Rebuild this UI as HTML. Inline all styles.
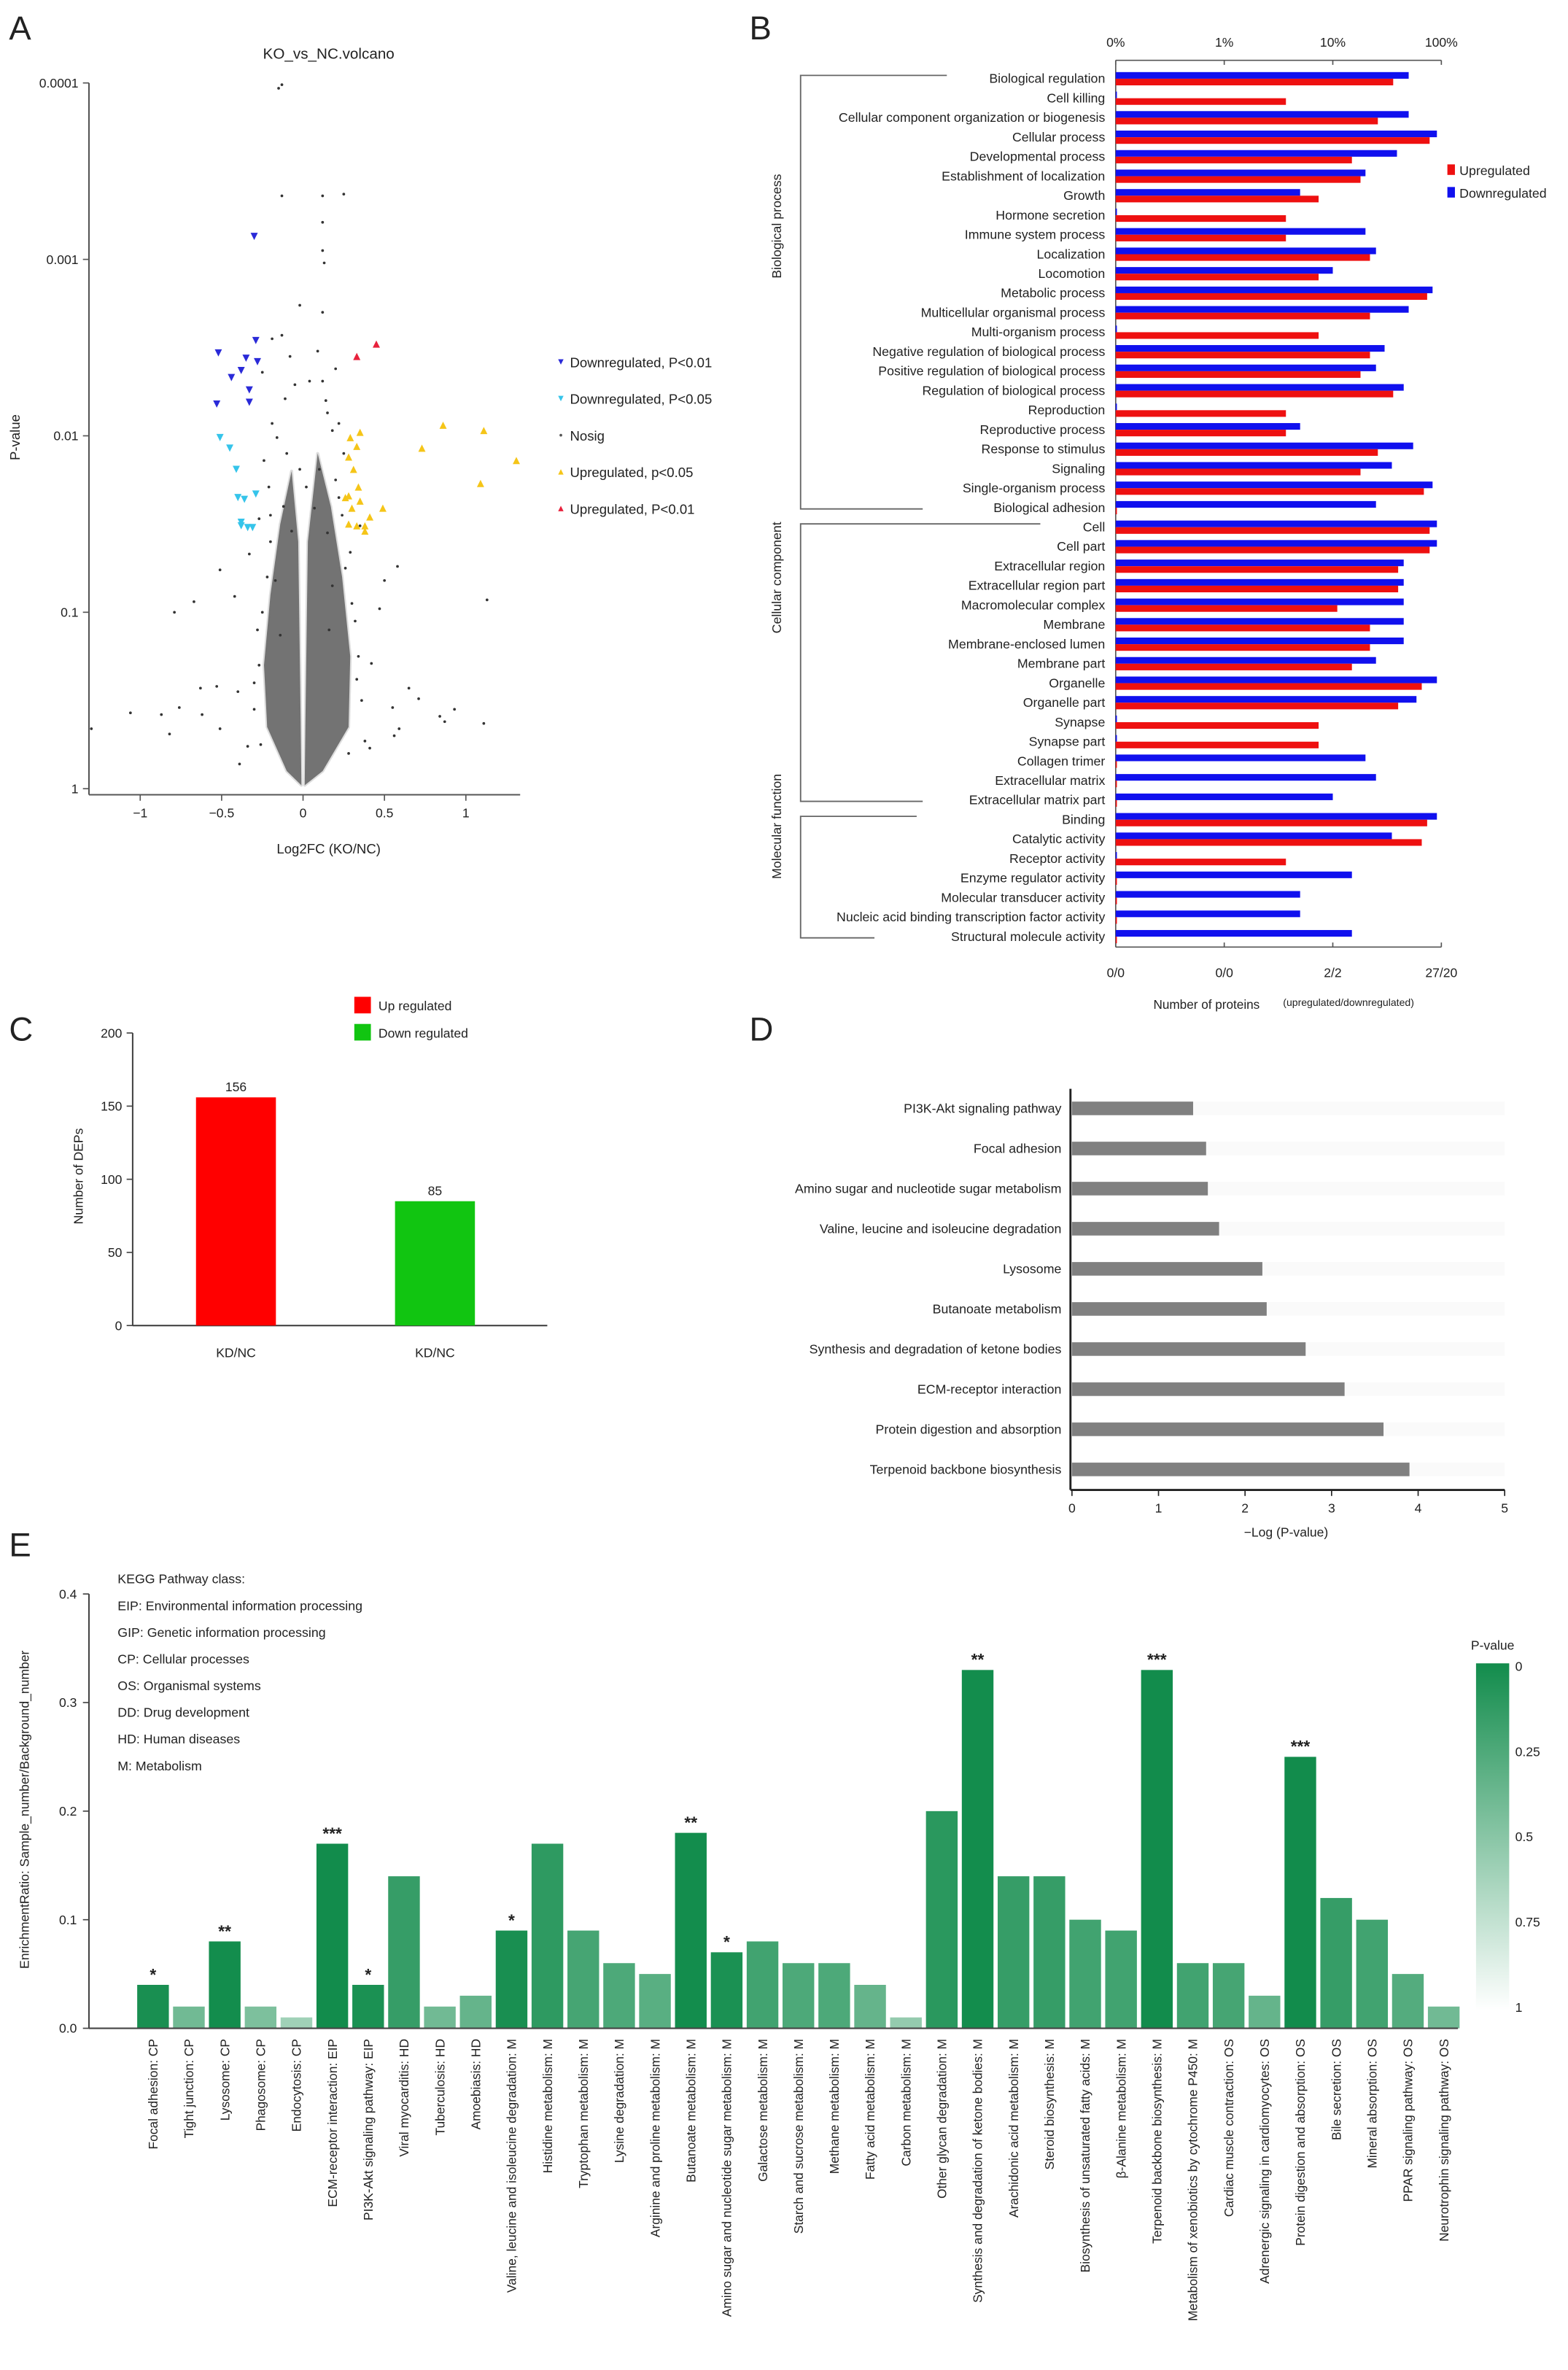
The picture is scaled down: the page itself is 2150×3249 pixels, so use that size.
<!DOCTYPE html>
<html><head><meta charset="utf-8">
<style>
html,body{margin:0;padding:0;background:#fff;}
svg{display:block;font-family:"Liberation Sans",Arial,sans-serif;}
</style></head>
<body>
<svg id="fig" xmlns="http://www.w3.org/2000/svg" width="2150" height="3249" viewBox="0 0 1040 1571.6">
<rect x="0" y="0" width="1040" height="1572" fill="#fff"/>
</svg>
<script>
// ===== Panel A data =====
const downP01 = [[-0.30,-3.13],[-0.52,-2.47],[-0.44,-2.33],[-0.38,-2.37],[-0.35,-2.44],[-0.29,-2.54],[-0.28,-2.42],[-0.33,-2.26],[-0.33,-2.19],[-0.53,-2.18]];
const downP05 = [[-0.51,-1.99],[-0.45,-1.93],[-0.41,-1.81],[-0.40,-1.65],[-0.36,-1.64],[-0.29,-1.67],[-0.38,-1.49],[-0.38,-1.51],[-0.34,-1.48],[-0.31,-1.48]];
const upP01 = [[0.33,-2.45],[0.45,-2.52]];
const upP05 = [[0.29,-1.99],[0.35,-2.02],[0.33,-1.94],[0.28,-1.88],[0.31,-1.81],[0.34,-1.71],[0.26,-1.65],[0.28,-1.66],[0.35,-1.63],[0.30,-1.59],[0.33,-1.49],[0.38,-1.49],[0.41,-1.54],[0.49,-1.59],[0.38,-1.46],[0.28,-1.5],[0.73,-1.93],[0.86,-2.06],[1.11,-2.03],[1.31,-1.86],[1.09,-1.73]];
const nosig = [[-0.13,-3.99],[-0.15,-3.97],[-0.13,-3.36],[0.12,-3.36],[0.25,-3.37],[0.12,-3.21],[0.12,-3.05],[0.13,-2.98],[-0.02,-2.74],[0.12,-2.70],[-0.19,-2.55],[-0.13,-2.57],[-0.08,-2.45],[0.09,-2.48],[-0.25,-2.36],[0.20,-2.38],[-0.05,-2.29],[0.04,-2.31],[0.12,-2.31],[-0.11,-2.21],[0.15,-2.13],[-0.19,-2.07],[0.22,-2.07],[-0.51,-1.24],[-0.42,-1.09],[-0.67,-1.06],[-0.79,-1.0],[-1.06,-0.43],[-1.30,-0.34],[-0.87,-0.42],[-0.82,-0.31],[-0.76,-0.46],[-0.63,-0.57],[-0.62,-0.42],[-0.53,-0.58],[-0.51,-0.34],[0.65,-0.57],[0.71,-0.51],[0.55,-0.46],[0.93,-0.45],[1.11,-0.37],[1.13,-1.07],[0.84,-0.41],[0.87,-0.38],[0.56,-0.30],[0.59,-0.34],[0.58,-1.26],[0.50,-1.18],[0.47,-1.02],[0.41,-0.23],[0.38,-0.27],[-0.39,-0.14],[-0.34,-0.24],[-0.33,-1.33],[-0.27,-1.53],[0.35,-1.49],[0.29,-1.34],[-0.21,-1.71],[0.22,-1.65],[-0.40,-0.55],[0.42,-0.71],[-0.14,-0.87],[0.16,-0.90],[-0.17,-1.18],[0.18,-1.15],[-0.24,-1.86],[0.25,-1.9],[-0.16,-1.99],[0.18,-2.03],[-0.02,-1.81],[0.10,-1.81],[0.02,-1.71],[-0.07,-1.46],[0.07,-1.59],[-0.22,-1.2],[0.26,-1.25],[-0.28,-0.9],[0.32,-0.95],[-0.30,-0.6],[0.33,-0.62],[-0.12,-1.6],[0.15,-1.45],[-0.2,-1.4],[0.24,-1.55],[-0.27,-0.7],[-0.3,-0.45],[0.36,-0.5],[0.34,-0.75],[-0.25,-1.0],[0.3,-1.05],[-0.2,-1.55],[0.2,-1.75],[-0.1,-1.9],[0.14,-2.2],[-0.26,-0.25],[0.28,-0.2]];
const coreLeft = [[-0.01,-0.02],[-0.1,-0.1],[-0.22,-0.35],[-0.24,-0.7],[-0.2,-1.1],[-0.14,-1.5],[-0.07,-1.8],[-0.03,-1.4],[-0.015,-0.4]];
const coreRight = [[0.01,-0.02],[0.015,-0.4],[0.03,-1.4],[0.09,-1.9],[0.17,-1.6],[0.24,-1.2],[0.29,-0.75],[0.28,-0.35],[0.12,-0.1]];
const aXTicks = [-1,-0.5,0,0.5,1];
const aXTickLabels = ["\u22121","\u22120.5","0","0.5","1"];
const aYTicks = [-4,-3,-2,-1,0];
const aYTickLabels = ["0.0001","0.001","0.01","0.1","1"];

// ===== Panel B data =====
const goCats = ["Biological regulation","Cell killing","Cellular component organization or biogenesis","Cellular process","Developmental process","Establishment of localization","Growth","Hormone secretion","Immune system process","Localization","Locomotion","Metabolic process","Multicellular organismal process","Multi-organism process","Negative regulation of biological process","Positive regulation of biological process","Regulation of biological process","Reproduction","Reproductive process","Response to stimulus","Signaling","Single-organism process","Biological adhesion","Cell","Cell part","Extracellular region","Extracellular region part","Macromolecular complex","Membrane","Membrane-enclosed lumen","Membrane part","Organelle","Organelle part","Synapse","Synapse part","Collagen trimer","Extracellular matrix","Extracellular matrix part","Binding","Catalytic activity","Receptor activity","Enzyme regulator activity","Molecular transducer activity","Nucleic acid binding transcription factor activity","Structural molecule activity"];
const goDown = [50,0,50,91,39,20,5,0,20,25,10,83,50,0,30,25,45,0,5,55,35,83,25,91,91,45,45,45,45,45,25,91,59,0,0,20,25,10,91,35,0,15,5,5,15];
const goUp = [36,3.7,26,78,15,18,7.4,3.7,3.7,22,7.4,74,22,7.4,22,18,36,3.7,3.7,26,18,69,0,78,78,40,40,11,22,22,15,66,40,7.4,7.4,0,0,0,74,66,3.7,0,0,0,0];
const bTopTicks = [0.1,1,10,100];
const bTopLabels = ["0%","1%","10%","100%"];
const bBotLabels = ["0/0","0/0","2/2","27/20"];

// ===== Panel C data =====
const cCats = ["KD/NC","KD/NC"];
const cVals = [156,85];
const cYTicks = [0,50,100,150,200];

// ===== Panel D data =====
const dCats = ["PI3K-Akt signaling pathway","Focal adhesion","Amino sugar and nucleotide sugar metabolism","Valine, leucine and isoleucine degradation","Lysosome","Butanoate metabolism","Synthesis and degradation of ketone bodies","ECM-receptor interaction","Protein digestion and absorption","Terpenoid backbone biosynthesis"];
const dVals = [1.4,1.55,1.57,1.7,2.2,2.25,2.7,3.15,3.6,3.9];
const dXTicks = [0,1,2,3,4,5];

// ===== Panel E data =====
const eCats = ["Focal adhesion: CP","Tight junction: CP","Lysosome: CP","Phagosome: CP","Endocytosis: CP","ECM-receptor interaction: EIP","PI3K-Akt signaling pathway: EIP","Viral myocarditis: HD","Tuberculosis: HD","Amoebiasis: HD","Valine, leucine and isoleucine degradation: M","Histidine metabolism: M","Tryptophan metabolism: M","Lysine degradation: M","Arginine and proline metabolism: M","Butanoate metabolism: M","Amino sugar and nucleotide sugar metabolism: M","Galactose metabolism: M","Starch and sucrose metabolism: M","Methane metabolism: M","Fatty acid metabolism: M","Carbon metabolism: M","Other glycan degradation: M","Synthesis and degradation of ketone bodies: M","Arachidonic acid metabolism: M","Steroid biosynthesis: M","Biosynthesis of unsaturated fatty acids: M","\u03b2-Alanine metabolism: M","Terpenoid backbone biosynthesis: M","Metabolism of xenobiotics by cytochrome P450: M","Cardiac muscle contraction: OS","Adrenergic signaling in cardiomyocytes: OS","Protein digestion and absorption: OS","Bile secretion: OS","Mineral absorption: OS","PPAR signaling pathway: OS","Neurotrophin signaling pathway: OS"];
const eVals = [0.04,0.02,0.08,0.02,0.01,0.17,0.04,0.14,0.02,0.03,0.09,0.17,0.09,0.06,0.05,0.18,0.07,0.08,0.06,0.06,0.04,0.01,0.20,0.33,0.14,0.14,0.10,0.09,0.33,0.06,0.06,0.03,0.25,0.12,0.10,0.05,0.02];
const ePvals = [0.03,0.4,0.005,0.45,0.6,0.0005,0.04,0.15,0.4,0.35,0.03,0.12,0.22,0.25,0.3,0.005,0.04,0.2,0.25,0.25,0.35,0.55,0.1,0.005,0.15,0.15,0.2,0.2,0.0005,0.2,0.22,0.35,0.0005,0.15,0.2,0.28,0.4];
const eStars = ["*","","**","","","***","*","","","","*","","","","","**","*","","","","","","","**","","","","","***","","","","***","","","",""];
const eYTicks = [0,0.1,0.2,0.3,0.4];
const eYLabels = ["0.0","0.1","0.2","0.3","0.4"];
const eLegendLines = ["KEGG Pathway class:","EIP: Environmental information processing","GIP: Genetic information processing","CP: Cellular processes","OS: Organismal systems","DD: Drug development","HD: Human diseases","M: Metabolism"];
const pLegendTicks = [0,0.25,0.5,0.75,1];
const pLegendLabels = ["0","0.25","0.5","0.75","1"];

const NS = "http://www.w3.org/2000/svg";
const svg = document.getElementById('fig');
function mk(tag, attrs, parent){
  const e = document.createElementNS(NS, tag);
  for (const k in attrs) e.setAttribute(k, attrs[k]);
  (parent||svg).appendChild(e);
  return e;
}
function txt(s, x, y, size, anchor, parent, extra){
  const a = {x:x, y:y, 'font-size':size, 'text-anchor':anchor||'start', fill:'#222'};
  if (extra) for (const k in extra) a[k]=extra[k];
  const t = mk('text', a, parent);
  t.textContent = s;
  return t;
}
function line(x1,y1,x2,y2,parent,stroke,w){
  return mk('line',{x1:x1,y1:y1,x2:x2,y2:y2,stroke:stroke||'#444','stroke-width':w||0.8},parent);
}

// ================= PANEL A =================
const gA = mk('g',{});


const xA = v => 201 + 108*v;
const yA = lp => 523 + 117*lp;
let t = txt("A", 6, 26, 22, 'start', gA);


t = txt("KO_vs_NC.volcano", 218, 39, 10, 'middle', gA);


[coreLeft, coreRight].forEach(shape => {
  const pts = shape.map(p => xA(p[0]).toFixed(1)+','+yA(p[1]).toFixed(1)).join(' ');
  const core = mk('polygon',{points:pts, fill:'#1e1e1e', opacity:0.62, stroke:'#1e1e1e','stroke-width':2,'stroke-opacity':0.25,'stroke-linejoin':'round'}, gA);
  
  
});
const gNs = mk('g',{fill:'#333'},gA);


nosig.forEach(p => {
  const c = mk('circle',{cx:xA(p[0]),cy:yA(p[1]),r:0.9},gNs);
  
  
});
function tri(x,y,down,color,parent){
  const s=2.4;
  const pts = down ? `${x-s},${y-s} ${x+s},${y-s} ${x},${y+s}` : `${x-s},${y+s} ${x+s},${y+s} ${x},${y-s}`;
  return mk('polygon',{points:pts, fill:color},parent);
}
const seriesA = [[downP01,true,'#2a2ad8','down-p01-point'],[downP05,true,'#35c4ea','down-p05-point'],[upP05,false,'#f5c518','up-p05-point'],[upP01,false,'#e8213c','up-p01-point']];
seriesA.forEach(s => {
  s[0].forEach(p => {
    const m = tri(xA(p[0]), yA(p[1]), s[1], s[2], gA);
    
    
  });
});
let ax = line(59,55,59,527,gA,'#555',1);


ax = line(59,527,345,527,gA,'#555',1);


aXTicks.forEach((v,i) => {
  line(xA(v),527,xA(v),531,gA,'#555',0.8);
  const l = txt(aXTickLabels[i], xA(v), 542, 8.5, 'middle', gA);
  
  
});
aYTicks.forEach((v,i) => {
  line(55,yA(v),59,yA(v),gA,'#555',0.8);
  const l = txt(aYTickLabels[i], 52, yA(v)+3, 8.5, 'end', gA);
  
  
});
t = txt("Log2FC (KO/NC)", 218, 566, 9, 'middle', gA);


t = txt("P-value", 0, 0, 9, 'middle', gA, {transform:'translate(13,290) rotate(-90)'});


const aLeg = [["Downregulated, P<0.01",'#2a2ad8',true],["Downregulated, P<0.05",'#35c4ea',true],["Nosig",'#555',null],["Upregulated, p<0.05",'#f5c518',false],["Upregulated, P<0.01",'#e8213c',false]];
aLeg.forEach((L,i) => {
  const y = 240 + i*24.3;
  const g = mk('g',{},gA);
  
  
  if (L[2]===null) mk('circle',{cx:372,cy:y,r:0.9,fill:L[1]},g);
  else { const s=1.8; mk('polygon',{points: L[2]?`${372-s},${y-s} ${372+s},${y-s} 372,${y+s}`:`${372-s},${y+s} ${372+s},${y+s} 372,${y-s}`, fill:L[1]},g); }
  txt(L[0], 378, y+3.5, 9, 'start', g);
});

// ================= PANEL B =================
const gB = mk('g',{});


t = txt("B", 497, 26, 22, 'start', gB);


const xB = pct => pct>0 ? 812 + 72*Math.log10(pct) : 740.8;
const yB = i => 52 + i*12.93;
ax = line(740,40,956,40,gB,'#555',0.8);


bTopTicks.forEach((v,i) => {
  line(xB(v),40,xB(v),43,gB,'#555',0.8);
  const l = txt(bTopLabels[i], xB(v), 31, 8.5, 'middle', gB);
  
  
});
ax = line(740,628,956,628,gB,'#555',0.8);


bTopTicks.forEach((v,i) => {
  line(xB(v),625,xB(v),628,gB,'#555',0.8);
  const l = txt(bBotLabels[i], xB(v), 648, 8.5, 'middle', gB);
  
  
});
line(740,40,740,628,gB,'#555',0.8);
goCats.forEach((c,i) => {
  const y = yB(i);
  const l = txt(c, 733, y+3, 8.6, 'end', gB);
  
  
  const b = mk('rect',{x:740,y:y-4.2,width:Math.max(0.8,xB(goDown[i])-740),height:4.4,fill:'#1010ee'},gB);
  
  
  const r = mk('rect',{x:740,y:y+0.2,width:Math.max(0.8,xB(goUp[i])-740),height:4.4,fill:'#ee1010'},gB);
  
  
});
const groups = [["Biological process",0,22,628,612,150],["Cellular component",23,37,690,612,383],["Molecular function",38,44,608,580,548]];
groups.forEach(G => {
  const g = mk('g',{fill:'none'},gB);
  
  
  const y1 = yB(G[1])-2, y2 = yB(G[2])+1;
  mk('polyline',{points:`${G[3]},${y1} 531,${y1} 531,${y2} ${G[4]},${y2}`, stroke:'#666','stroke-width':0.9, fill:'none'},g);
  txt(G[0], 0, 0, 8.6, 'middle', g, {transform:`translate(518,${G[5]}) rotate(-90)`});
});
const bLeg = [["Upregulated",'#ee1010',113],["Downregulated",'#1010ee',128]];
bLeg.forEach(L => {
  const g = mk('g',{},gB);
  
  
  mk('rect',{x:960,y:L[2]-4,width:5,height:7,fill:L[1]},g);
  txt(L[0], 968, L[2]+3, 8.6, 'start', g);
});
t = txt("Number of proteins", 765, 669, 8.3, 'start', gB);


t = txt("(upregulated/downregulated)", 851, 667, 6.8, 'start', gB);



// ================= PANEL C =================
const gC = mk('g',{});


t = txt("C", 6, 690, 22, 'start', gC);


const yC = v => 879 - v*0.97;
const cColors = ['#ff0000','#11c511'];
const cX = [130,262];
ax = line(88,yC(200),88,879,gC,'#444',1);


ax = line(88,879,363,879,gC,'#444',1);


cYTicks.forEach(v => {
  line(84,yC(v),88,yC(v),gC,'#444',0.8);
  const l = txt(String(v), 81, yC(v)+3, 8.5, 'end', gC);
  
  
});
cVals.forEach((v,i) => {
  const b = mk('rect',{x:cX[i],y:yC(v),width:53,height:879-yC(v),fill:cColors[i]},gC);
  
  
  const l = txt(String(v), cX[i]+26.5, yC(v)-4, 8.5, 'middle', gC);
  
  
  const xl = txt(cCats[i], cX[i]+26.5, 900, 8.5, 'middle', gC);
  
  
});
t = txt("Number of DEPs", 0, 0, 8.5, 'middle', gC, {transform:'translate(55,780) rotate(-90)'});


[["Up regulated",'#ff0000',667],["Down regulated",'#11c511',685]].forEach(L => {
  const g = mk('g',{},gC);
  
  
  mk('rect',{x:235,y:L[2]-6,width:11,height:11,fill:L[1]},g);
  txt(L[0], 251, L[2]+3, 8.5, 'start', g);
});

// ================= PANEL D =================
const gD = mk('g',{});


t = txt("D", 497, 690, 22, 'start', gD);


const xD = v => 711 + 57.4*v;
const yD = i => 735 + i*26.6;
dCats.forEach((c,i) => {
  const bg = mk('rect',{x:711,y:yD(i)-4.5,width:287,height:9,fill:'#fafafa'},gD);
  
  
  const b = mk('rect',{x:711,y:yD(i)-4.5,width:xD(dVals[i])-711,height:9,fill:'#808080'},gD);
  
  
  const l = txt(c, 704, yD(i)+3, 8.6, 'end', gD);
  
  
});
ax = line(710,722,710,988,gD,'#222',1.4);


ax = line(710,988,998,988,gD,'#222',1.4);


dXTicks.forEach(v => {
  line(xD(v),988,xD(v),992,gD,'#222',0.8);
  const l = txt(String(v), xD(v), 1003, 8.5, 'middle', gD);
  
  
});
t = txt("\u2212Log (P-value)", 853, 1019, 8.5, 'middle', gD);



// ================= PANEL E =================
const gE = mk('g',{});


t = txt("E", 6, 1032, 22, 'start', gE);


const yE = v => 1345 - 720*v;
const xE = i => 101.5 + i*23.78;
function pColor(p){
  const a=[18,140,76], b=[255,255,255];
  return 'rgb('+a.map((c,k)=>Math.round(c+(b[k]-c)*p)).join(',')+')';
}
eVals.forEach((v,i) => {
  const b = mk('rect',{x:xE(i)-10.5,y:yE(v),width:21,height:1345-yE(v),fill:pColor(ePvals[i])},gE);
  
  
  if (eStars[i]) {
    const s = txt(eStars[i], xE(i), yE(v)-3, 11, 'middle', gE, {'font-weight':'bold'});
    
    
  }
  const l = txt(eCats[i], 0, 0, 8.4, 'end', gE, {transform:`translate(${xE(i)+3},1352) rotate(-90)`});
  
  
});
ax = line(59,1057,59,1345,gE,'#444',1);


ax = line(59,1345,967,1345,gE,'#444',1);


eYTicks.forEach((v,i) => {
  line(55,yE(v),59,yE(v),gE,'#444',0.8);
  const l = txt(eYLabels[i], 51, yE(v)+3, 8.5, 'end', gE);
  
  
});
t = txt("EnrichmentRatio: Sample_number/Background_number", 0, 0, 8.5, 'middle', gE, {transform:'translate(19,1200) rotate(-90)'});


eLegendLines.forEach((s,i) => {
  const l = txt(s, 78, 1050 + i*17.7, 8.6, 'start', gE);
  
  
});
const defs = mk('defs',{});
const grad = mk('linearGradient',{id:'pgrad',x1:0,y1:0,x2:0,y2:1},defs);
mk('stop',{offset:'0%','stop-color':pColor(0)},grad);
mk('stop',{offset:'100%','stop-color':pColor(1)},grad);
const pBar = mk('rect',{x:979,y:1103,width:22,height:230,fill:'url(#pgrad)'},gE);


t = txt("P-value", 990, 1094, 8.5, 'middle', gE);


pLegendTicks.forEach((v,i) => {
  const l = txt(pLegendLabels[i], 1005, 1108 + v*226, 8.5, 'start', gE);
  
  
});
</script>
</body></html>
